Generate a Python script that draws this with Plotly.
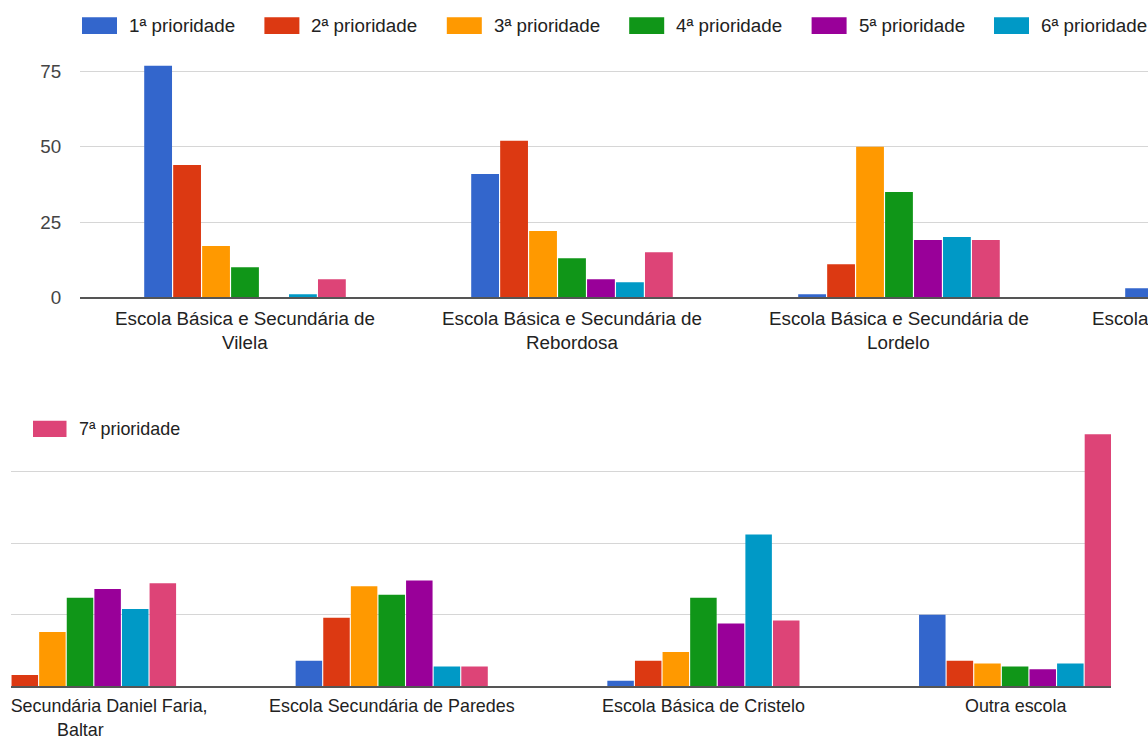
import plotly.graph_objects as go

# ---------------- data ----------------
categories = [
    ["Escola Básica e Secundária de", "Vilela"],
    ["Escola Básica e Secundária de", "Rebordosa"],
    ["Escola Básica e Secundária de", "Lordelo"],
    ["Escola Secundária Daniel Faria,", "Baltar"],
    ["Escola Secundária de Paredes"],
    ["Escola Básica de Cristelo"],
    ["Outra escola"],
]
series_names = ["1ª prioridade", "2ª prioridade", "3ª prioridade", "4ª prioridade",
                "5ª prioridade", "6ª prioridade", "7ª prioridade"]
p1 = [77, 41, 1, 3, 9, 2, 25]
p2 = [44, 52, 11, 4, 24, 9, 9]
p3 = [17, 22, 50, 19, 35, 12, 8]
p4 = [10, 13, 35, 31, 32, 31, 7]
p5 = [0, 6, 19, 34, 37, 22, 6]
p6 = [1, 5, 20, 27, 7, 53, 8]
p7 = [6, 15, 19, 36, 7, 23, 88]
series_values = [p1, p2, p3, p4, p5, p6, p7]
colors = ["#3366cc", "#dc3912", "#ff9900", "#109618", "#990099", "#0099c6", "#dd4477"]
y_ticks = [0, 25, 50, 75]

W, H = 1148, 747
FONT = "Liberation Sans, Arial, sans-serif"

def px(x):
    return x / W

def py(y):
    return 1 - y / H

# two views of the same chart: top shows the first categories, bottom the last ones
top_x_dom, top_x_rng = [px(80), 1.0], [-0.5046, 2.7615]
top_y_dom = [py(301.7), py(31.5)]
bot_x_dom, bot_x_rng = [px(11), px(1111)], [2.7786, 6.3076]
bot_y_dom = [py(696.7), py(439.4)]
y_rng = [0, 88.5]

def cat_to_paper(i, dom, rng):
    return dom[0] + (i - rng[0]) / (rng[1] - rng[0]) * (dom[1] - dom[0])

def val_to_paper(v, dom, rng):
    return dom[0] + (v - rng[0]) / (rng[1] - rng[0]) * (dom[1] - dom[0])

fig = go.Figure()
xs = list(range(len(categories)))

for xa, ya in [("x", "y"), ("x2", "y2")]:
    for name, vals, col in zip(series_names, series_values, colors):
        fig.add_trace(go.Bar(
            x=xs, y=vals, name=name, marker_color=col, marker_line_width=0,
            xaxis=xa, yaxis=ya, showlegend=False, hoverinfo="x+y+name",
        ))

shapes, annotations = [], []

# category labels (wrapped lines) below each baseline
for xdom, xrng, ydom, fs in [(top_x_dom, top_x_rng, top_y_dom, 18.8),
                             (bot_x_dom, bot_x_rng, bot_y_dom, 17.9)]:
    for i, lines in enumerate(categories):
        for j, line in enumerate(lines):
            annotations.append(dict(
                xref="paper", yref="paper",
                x=cat_to_paper(i, xdom, xrng),
                y=val_to_paper(-7.0 - 8.2 * j, ydom, y_rng),
                text=line, showarrow=False, xanchor="center", yanchor="middle",
                font=dict(family=FONT, size=fs, color="#222222")))

# the lower view clips its labels at the left edge of its chart area
annotations.append(dict(xref="paper", yref="paper", x=-5 / W, y=val_to_paper(-7.0, bot_y_dom, y_rng),
                        xanchor="left", yanchor="middle", text=" ", showarrow=False,
                        width=15, height=28, bgcolor="white", borderpad=0, borderwidth=0,
                        font=dict(size=10)))

# top legend (first page)
for i, (name, col) in enumerate(zip(series_names, colors)):
    x0 = 82 + 182.4 * i
    shapes.append(dict(type="rect", xref="paper", yref="paper",
                       x0=px(x0), x1=px(x0 + 35), y0=py(34.5), y1=py(17.5),
                       fillcolor=col, line=dict(width=0)))
    annotations.append(dict(xref="paper", yref="paper", x=px(x0 + 45), y=py(26),
                            text=name, showarrow=False, xanchor="left", yanchor="middle",
                            font=dict(family=FONT, size=18.8, color="#222222")))
# bottom legend (second page)
shapes.append(dict(type="rect", xref="paper", yref="paper",
                   x0=px(33), x1=px(66.5), y0=py(443.5), y1=py(427),
                   fillcolor=colors[6], line=dict(width=0)))
annotations.append(dict(xref="paper", yref="paper", x=px(76.5), y=py(435),
                        text=series_names[6], showarrow=False, xanchor="left", yanchor="middle",
                        font=dict(family=FONT, size=17.9, color="#222222")))

axis_common = dict(showgrid=False, zeroline=False, showline=True, linecolor="#555555",
                   linewidth=2, showticklabels=False, ticks="", fixedrange=True)
yaxis_common = dict(showgrid=True, gridcolor="#d6d6d6", gridwidth=1, zeroline=False,
                    tickvals=y_ticks, range=y_rng, showline=False, fixedrange=True)

fig.update_layout(
    width=W, height=H, autosize=False,
    margin=dict(l=0, r=0, t=0, b=0),
    paper_bgcolor="white", plot_bgcolor="white",
    barmode="group", bargap=0.38, bargroupgap=0.04,
    font=dict(family=FONT, color="#444444"),
    xaxis=dict(domain=top_x_dom, range=top_x_rng, anchor="y", **axis_common),
    yaxis=dict(domain=top_y_dom, anchor="x",
               showticklabels=True, ticks="outside", ticklen=14, tickcolor="rgba(0,0,0,0)",
               tickfont=dict(family=FONT, size=18.8, color="#444444"), **yaxis_common),
    xaxis2=dict(domain=bot_x_dom, range=bot_x_rng, anchor="y2", **axis_common),
    yaxis2=dict(domain=bot_y_dom, anchor="x2", showticklabels=False, **yaxis_common),
    shapes=shapes, annotations=annotations,
    showlegend=False,
)

fig.write_html("out.html",
               config={"displayModeBar": False, "responsive": False},
               post_script="document.body.style.margin='0';document.body.style.overflow='hidden';")
